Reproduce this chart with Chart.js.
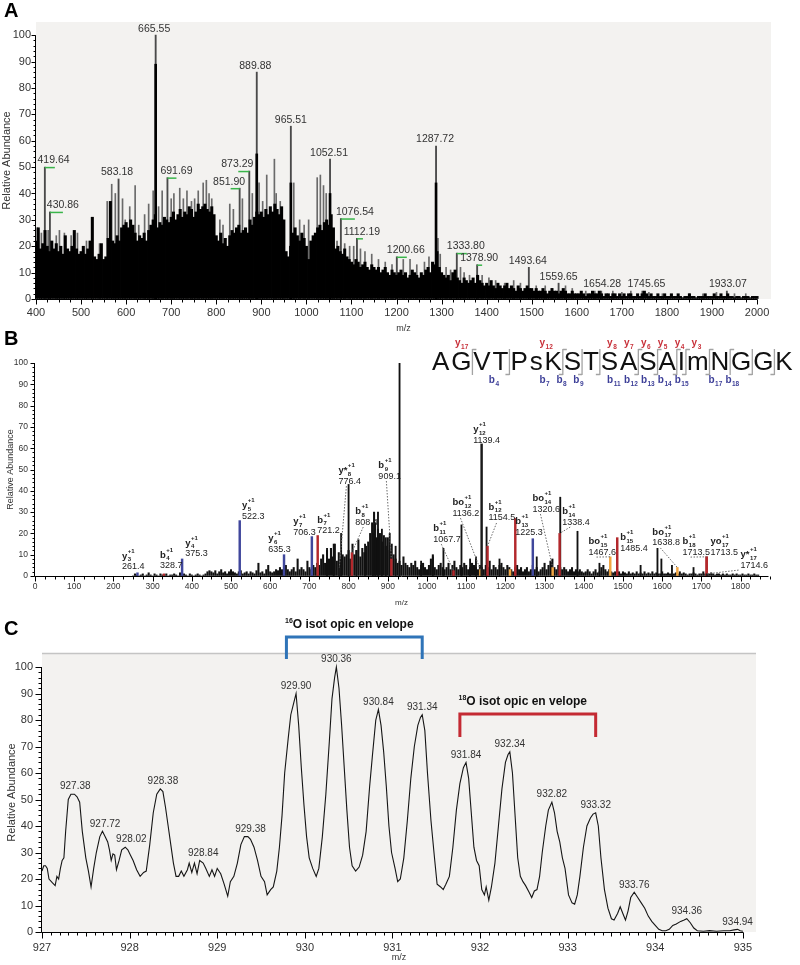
<!DOCTYPE html>
<html>
<head>
<meta charset="utf-8">
<title>MS spectra A-C</title>
<script src="https://cdn.jsdelivr.net/npm/chart.js"></script>
<style>
  html, body { margin:0; padding:0; background:#fff; }
  body { width:800px; height:965px; position:relative; overflow:hidden; font-family:"Liberation Sans", Arial, sans-serif; }
  .wrap { position:absolute; left:0; }
  .wrap canvas { display:block; }
  .tag { position:absolute; left:4px; font-weight:bold; font-size:20px; line-height:20px; color:#000; }
</style>
</head>
<body>
<div class="wrap" style="top:0"><canvas id="chartA" width="800" height="340"></canvas></div>
<div class="wrap" style="top:320px"><canvas id="chartB" width="800" height="290"></canvas></div>
<div class="wrap" style="top:605px"><canvas id="chartC" width="800" height="360"></canvas></div>
<div class="tag" style="top:0">A</div>
<div class="tag" style="top:328px">B</div>
<div class="tag" style="top:618px">C</div>
<script>
const FONT = '"Liberation Sans", Arial, sans-serif';

/* ================= PANEL A DATA ================= */
const aStartMz = 400, aStepMz = 5;
const aEnvelope = [
  22, 27, 19, 21, 26, 20, 18, 22, 19, 21, 18, 20, 17, 24, 19, 18, 20, 26, 19, 17,
  18, 20, 17, 19, 22, 31, 16, 15, 17, 21, 15, 16, 23, 37, 22, 21, 24, 22, 27, 28,
  29, 27, 30, 28, 25, 22, 24, 23, 25, 22, 26, 28, 30, 32, 27, 29, 28, 31, 30, 29,
  31, 33, 30, 32, 34, 31, 33, 32, 35, 34, 31, 33, 36, 34, 35, 36, 34, 33, 35, 32,
  24, 22, 25, 21, 23, 20, 24, 26, 25, 27, 28, 25, 26, 27, 25, 30, 28, 31, 33, 32,
  33, 31, 34, 32, 35, 33, 36, 34, 32, 35, 30, 18, 16, 20, 25, 27, 24, 22, 25, 23,
  20, 15, 22, 24, 25, 27, 28, 26, 29, 30, 28, 32, 27, 19, 20, 18, 17, 19, 16, 15,
  14, 13, 15, 14, 12, 13, 14, 12, 11, 13, 12, 11, 12, 10, 11, 12, 10, 9, 11, 10,
  9, 10, 11, 9, 10, 8, 9, 11, 10, 9, 8, 10, 9, 11, 12, 10, 14, 13, 18, 12,
  10, 9, 8, 9, 7, 10, 11, 8, 7, 6, 8, 7, 6, 7, 8, 6, 9, 7, 6, 5,
  6, 5, 7, 5, 4, 6, 5, 4, 5, 6, 4, 5, 4, 3, 5, 4, 3, 4, 5, 4,
  4, 3, 4, 3, 3, 4, 3, 2, 3, 4, 3, 3, 2, 3, 4, 3, 2, 2, 3, 2,
  2, 2, 3, 2, 1, 2, 2, 3, 2, 2, 3, 2, 1, 2, 2, 1, 2, 2, 1, 2,
  1, 2, 1, 2, 2, 1, 1, 2, 1, 2, 3, 2, 1, 2, 1, 1, 2, 1, 1, 2,
  1, 1, 2, 1, 1, 2, 1, 0.5, 1, 1, 2, 1, 1, 0.5, 1, 1, 1, 2, 1, 1,
  1, 2, 1, 1, 2, 1, 1, 2, 1, 1, 0.5, 1, 1, 0.5, 1, 1, 1, 0.5, 1, 1, 1
];
const aSpikeMz = [403, 412, 427, 445, 452, 463, 478, 492, 512, 524, 541, 558, 568, 576, 592, 598, 608, 620, 628, 641,
  650, 660, 672, 680, 700, 706, 719, 727, 735, 745, 752, 760, 771, 778, 784, 790, 808, 815, 830, 838,
  858, 880, 895, 903, 912, 929, 933, 942, 948, 972, 985, 995, 1005, 1024, 1031, 1038, 1044, 1060, 1068, 1085,
  1096, 1105, 1120, 1130, 1145, 1160, 1175, 1190, 1215, 1230, 1245, 1262, 1272, 1292, 1297, 1310, 1320, 1342, 1350, 1362,
  1390, 1405, 1420, 1440, 1460, 1475, 1510, 1530, 1545, 1575, 1590, 1620, 1640, 1680, 1700, 1720, 1760, 1790, 1850, 1880,
  1910, 1950, 1975];
const aSpikeInt = [27, 25, 26, 24, 26, 25, 24, 25, 22, 31, 21, 37, 43.5, 40, 38, 30, 35, 43, 28, 32,
  36, 41, 35, 41, 38, 40, 42, 38, 41, 37, 38, 41, 44, 45, 40, 38, 30, 28, 36, 34,
  38, 40, 44, 37, 47, 53, 40, 37, 30, 44, 30, 28, 30, 46, 47, 43, 40, 21, 22, 21,
  20, 20, 19, 18, 17, 15, 14, 13, 15, 15, 13, 14, 16, 23, 17, 12, 11, 12, 10, 9,
  9, 8, 7, 6, 7, 6, 5, 5, 4, 5, 4, 3, 3, 3, 2.5, 3, 2.5, 2, 2, 2,
  2.5, 2, 2];
const aPeakMz = [419.64, 430.86, 583.18, 665.55, 691.69, 851.90, 873.29, 889.88, 965.51, 1052.51, 1076.54,
  1112.19, 1200.66, 1287.72, 1333.80, 1378.90, 1493.64, 1559.65, 1654.28, 1745.65, 1933.07];
const aPeakInt = [50, 33, 45.5, 100, 46, 42, 48.5, 86, 65.5, 53, 30.5, 23, 16, 58, 17.4, 13, 12, 6, 3, 3, 3];
const aCoreMz = [665.55, 889.88, 965.51, 1052.51, 1287.72];
const aCoreInt = [89, 55, 44, 40, 44];
const aXTicks = [400, 500, 600, 700, 800, 900, 1000, 1100, 1200, 1300, 1400, 1500, 1600, 1700, 1800, 1900, 2000];
const aYTicks = [0, 10, 20, 30, 40, 50, 60, 70, 80, 90, 100];

/* ================= PANEL B DATA ================= */
const bStartMz = 250, bStepMz = 5;
const bNoise = [
  0, 1, 0.5, 0, 0.5, 1, 0, 0.5, 1.5, 0.5, 0, 1, 0.5, 0, 1, 0.5, 0.5, 1, 0, 0.5,
  0.5, 1, 0.5, 0, 1.5, 0.5, 1, 0.5, 0, 1, 0.5, 0, 0.5, 1, 0.5, 0, 0.5, 1, 2, 2.5,
  2, 1.5, 2.5, 1, 2, 3, 1.5, 2, 1, 2, 3, 2, 1.5, 1, 2, 2.5, 1, 1.5, 2, 1,
  2, 1.5, 1, 2.5, 6, 1.5, 2, 1, 3, 5, 2, 1.5, 2, 3, 2.5, 4, 3, 2, 5, 3,
  2, 3, 4, 2, 8, 3, 4, 3, 2, 7, 4, 3, 5, 4, 6, 5, 8, 10, 6, 12,
  8, 13, 9, 15, 7, 11, 8, 10, 9, 10, 12, 8, 15, 10, 12, 17, 9, 13, 11, 14,
  16, 20, 25, 30, 18, 22, 20, 16, 19, 14, 18, 12, 15, 10, 8, 6, 7, 5, 9, 6,
  5, 4, 6, 5, 7, 4, 3, 5, 6, 4, 3, 5, 8, 10, 4, 3, 5, 6, 4, 3,
  4, 6, 3, 5, 7, 4, 3, 5, 4, 6, 5, 3, 4, 6, 5, 4, 3, 5, 4, 3,
  5, 4, 7, 3, 5, 4, 3, 5, 6, 4, 3, 5, 4, 3, 2, 4, 5, 3, 4, 2,
  3, 4, 2, 3, 5, 3, 4, 2, 3, 4, 6, 3, 5, 7, 8, 4, 3, 5, 4, 3,
  4, 3, 2, 3, 4, 2, 3, 2, 3, 2, 1.5, 2, 3, 2, 1, 2, 3, 1.5, 2, 4,
  5, 3, 2, 3, 2, 1.5, 2, 3, 2, 1, 2, 1.5, 1, 2, 1, 1.5, 1, 2, 1, 1.5,
  1, 2, 1, 1.5, 1, 2, 1, 1.5, 1, 1, 2, 1, 1, 1.5, 1, 0.5, 1, 1.5, 1, 2,
  1, 1.5, 1, 0.5, 1, 1, 1.5, 1, 0.5, 1, 1, 2, 1, 0.5, 1, 1.5, 1, 0.5, 1, 1,
  0.5, 1, 0.5, 1, 0.5, 0.5, 1, 0.5, 1, 0.5, 0.5, 1, 0.5, 0.5, 1, 0.5, 0.5, 1, 0.5, 0.5
];
const bExtraMz = [930, 800, 875, 868, 885, 895, 905, 920, 842, 862, 820, 1042, 1088, 1152, 1340, 1384, 1588, 1598,
  1110, 1125, 1185, 1280, 1318, 1440, 1545, 1625, 1680, 1015, 985, 781, 762, 745];
const bExtraInt = [100, 43, 30, 25, 22, 18, 20, 14, 15, 20, 12, 13, 24, 23, 37, 21, 13, 8,
  8, 9, 8, 9, 7, 6, 5, 5, 4, 9, 7, 20, 15, 13];
const bOtherMz = [1270, 1212];
const bOtherInt = [17.5, 3];
const bIonType = ['y', 'b', 'y', 'y', 'y', 'y', 'b', 'y*', 'b', 'b', 'b', 'bo', 'y', 'b', 'b', 'bo', 'b', 'bo', 'b', 'bo', 'b', 'yo', 'y*'];
const bIonNum = ['3', '4', '4', '5', '6', '7', '7', '8', '8', '9', '11', '12', '12', '12', '13', '14', '14', '15', '15', '17', '18', '17', '17'];
const bIonMz = [261.4, 328.7, 375.3, 522.3, 635.3, 706.3, 721.2, 776.4, 808.4, 909.1, 1067.7, 1136.2, 1139.4,
  1154.5, 1225.3, 1320.6, 1338.4, 1467.6, 1485.4, 1638.8, 1713.5, 1713.5, 1714.6];
const bIonInt = [1.5, 1, 8, 26, 10, 18.5, 19, 4, 11, 8, 2.5, 3, 62, 14, 27, 4, 20, 9, 18, 4, 9, 9, 1];
const bXTicks = [0, 100, 200, 300, 400, 500, 600, 700, 800, 900, 1000, 1100, 1200, 1300, 1400, 1500, 1600, 1700, 1800];
const bYTicks = [0, 10, 20, 30, 40, 50, 60, 70, 80, 90, 100];
const peptide = 'AGVTPsKSTSASAImNGGK';
const seqYIons = [17, 12, 8, 7, 6, 5, 4, 3];
const seqBIons = [4, 7, 8, 9, 11, 12, 13, 14, 15, 17, 18];

/* ================= PANEL C DATA ================= */
const cProfile = [
  [927.00, 23], [927.02, 25], [927.04, 25], [927.06, 24], [927.08, 20], [927.12, 18.5], [927.15, 17.5], [927.17, 21],
  [927.19, 20], [927.21, 24], [927.23, 27], [927.25, 28], [927.27, 38], [927.30, 50], [927.33, 52], [927.37, 52],
  [927.40, 51], [927.43, 49], [927.46, 38], [927.50, 28], [927.53, 23], [927.56, 17], [927.59, 24], [927.62, 30],
  [927.66, 36], [927.69, 38], [927.72, 36], [927.75, 34], [927.77, 31], [927.79, 27], [927.81, 29.5], [927.83, 29],
  [927.85, 23.5], [927.88, 27], [927.91, 31], [927.95, 32], [927.98, 31], [928.01, 29], [928.04, 27], [928.08, 23.5],
  [928.12, 21], [928.16, 22.5], [928.19, 23], [928.23, 33], [928.27, 45], [928.31, 52], [928.35, 54], [928.38, 53],
  [928.41, 47], [928.44, 40], [928.47, 33], [928.50, 26], [928.53, 21], [928.56, 21], [928.59, 23], [928.62, 21],
  [928.66, 23.5], [928.68, 26], [928.71, 22.5], [928.74, 26], [928.77, 22], [928.80, 27], [928.84, 26], [928.87, 24],
  [928.91, 21], [928.94, 23.5], [928.97, 21], [929.00, 24], [929.04, 22], [929.08, 18], [929.12, 13.5], [929.15, 19],
  [929.19, 21], [929.23, 26], [929.27, 33], [929.31, 36], [929.35, 36], [929.38, 35], [929.42, 32], [929.46, 27],
  [929.50, 21], [929.54, 19], [929.57, 14], [929.61, 16], [929.64, 17], [929.68, 23], [929.71, 32], [929.74, 44],
  [929.77, 60], [929.81, 73], [929.84, 82], [929.87, 86], [929.90, 90], [929.93, 78], [929.96, 62], [929.99, 48],
  [930.02, 36], [930.05, 28], [930.09, 24], [930.13, 21], [930.16, 24], [930.20, 36], [930.24, 52], [930.28, 72],
  [930.31, 88], [930.34, 96], [930.36, 100], [930.39, 92], [930.42, 78], [930.45, 62], [930.48, 46], [930.51, 32],
  [930.54, 25], [930.58, 23], [930.62, 24.5], [930.66, 29], [930.70, 38], [930.74, 55], [930.77, 66], [930.81, 80],
  [930.84, 84], [930.87, 78], [930.90, 68], [930.93, 55], [930.96, 40], [930.99, 30], [931.03, 24], [931.06, 19],
  [931.09, 20], [931.13, 28], [931.17, 42], [931.21, 58], [931.25, 70], [931.29, 78], [931.32, 81], [931.34, 82],
  [931.37, 76], [931.40, 60], [931.44, 42], [931.48, 28], [931.51, 18], [931.55, 17], [931.58, 16], [931.61, 18],
  [931.65, 21], [931.69, 32], [931.73, 46], [931.77, 56], [931.81, 62], [931.84, 64], [931.87, 58], [931.90, 45],
  [931.93, 32], [931.96, 27], [931.99, 25], [932.02, 16], [932.05, 14], [932.07, 17], [932.10, 12], [932.13, 17],
  [932.17, 26], [932.21, 40], [932.25, 54], [932.29, 64], [932.32, 67], [932.34, 68], [932.37, 60], [932.40, 44],
  [932.43, 28], [932.46, 21], [932.49, 19], [932.52, 17.5], [932.56, 15], [932.59, 13], [932.62, 15.5], [932.65, 16],
  [932.68, 21], [932.71, 30], [932.75, 40], [932.78, 46], [932.82, 49], [932.85, 45], [932.88, 38], [932.91, 34],
  [932.94, 28], [932.97, 24], [933.01, 14], [933.05, 11], [933.08, 10.5], [933.11, 14], [933.14, 21], [933.18, 32],
  [933.22, 40], [933.26, 43], [933.29, 44.5], [933.32, 45], [933.35, 40], [933.38, 28], [933.42, 16], [933.46, 9],
  [933.50, 5], [933.53, 4.5], [933.57, 7], [933.60, 9.5], [933.63, 7], [933.66, 4.5], [933.69, 8], [933.72, 13],
  [933.76, 15], [933.80, 13], [933.84, 11], [933.88, 9], [933.92, 6], [933.96, 4], [934.00, 2.5], [934.04, 1],
  [934.08, 0.5], [934.12, 0.5], [934.16, 1], [934.20, 2.5], [934.24, 3], [934.29, 4], [934.33, 4.5], [934.36, 5],
  [934.40, 3.5], [934.44, 1.5], [934.48, 0.5], [934.55, 0.3], [934.62, 0.5], [934.70, 0.3], [934.78, 0.5], [934.85, 0.5],
  [934.90, 0.8], [934.94, 1], [934.97, 0.5], [935.00, 0.3]
];
const cPeakMz = [927.38, 927.72, 928.02, 928.38, 928.84, 929.38, 929.90, 930.36, 930.84, 931.34, 931.84, 932.34, 932.82, 933.32, 933.76, 934.36, 934.94];
const cPeakInt = [52, 38, 32, 54, 27, 36, 90, 100, 84, 82, 64, 68, 49, 45, 15, 5, 1];
const cXTicks = [927, 928, 929, 930, 931, 932, 933, 934, 935];
const cYTicks = [0, 10, 20, 30, 40, 50, 60, 70, 80, 90, 100];
const cEnvelopeName = ['16', '18'];
const cEnvelopeFrom = [929.79, 931.77];
const cEnvelopeTo = [931.34, 933.32];

/* ================= LAYOUT / STYLE (not data) ================= */
const BLUE = '#40479c', RED = '#b3282c', ORANGE = '#f2a541', DARK = '#1a1a1a';
const A_LABEL = {
  dx:    [8.7, 13, -1.5, -1.5, 9, -10.5, -12, -1.5, 0, -1, 14, 5, 9, -1, 9, 2, -1, 0, 1, 4, 1],
  green: [10, 13, 0, 0, 9, -9, -11, 0, 0, 0, 14, 6, 10, 0, 10, 5, 0, 0, 0, 0, 0]
};
const B_LABEL = {
  leftMz: [222, 319, 383, 528, 595, 659, 720, 774, 817, 876, 1016, 1065, 1118, 1157, 1225, 1269, 1345, 1412, 1493, 1575, 1652, 1723, 1800],
  level:  [4.7, 5.2, 10.8, 28.6, 13.1, 21.1, 21.6, 45, 25.8, 47.4, 17.8, 30, 64.3, 27.7, 21.1, 31.9, 25.8, 11.7, 13.6, 16, 11.7, 11.7, 5.6],
  leader: [0, 0, 0, 0, 0, 0, 0, 1, 1, 1, 1, 1, 0, 1, 0, 1, 1, 1, 0, 1, 1, 0, 2],
  color:  [BLUE, RED, BLUE, BLUE, BLUE, BLUE, RED, DARK, RED, RED, RED, ORANGE, DARK, RED, RED, ORANGE, RED, ORANGE, RED, ORANGE, RED, RED, DARK]
};
const B_OTHER_COLOR = [BLUE, ORANGE];
const C_ENV_STYLE = [
  { color: '#2f74b8', top: 111.3, bottom: 103, textLevel: 114.7, textShift: -5 },
  { color: '#c42a33', top: 82.3, bottom: 73.6, textLevel: 85.7, textShift: -5 }
];

/* ================= HELPERS ================= */
function xScale(min, max, ticks, size, pad, tl, height, titleSize, titlePad) {
  return {
    type: 'linear', min, max, offset: false,
    afterBuildTicks: s => { s.ticks = ticks.map(v => ({ value: v })); },
    afterFit: s => { s.height = height; },
    grid: { drawOnChartArea: false, color: 'rgba(0,0,0,0)', drawTicks: true, tickLength: tl },
    border: { display: false },
    ticks: { font: { size, family: FONT }, color: '#333', padding: pad, maxRotation: 0, minRotation: 0, autoSkip: false, callback: v => String(v) },
    title: { display: true, text: 'm/z', font: { size: titleSize, family: FONT }, color: '#333', padding: { top: 0, bottom: titlePad } }
  };
}
function yScale(min, max, ticks, size, pad, tl, width, titleSize, titlePad) {
  return {
    type: 'linear', min, max,
    afterBuildTicks: s => { s.ticks = ticks.map(v => ({ value: v })); },
    afterFit: s => { s.width = width; },
    grid: { drawOnChartArea: false, color: 'rgba(0,0,0,0)', drawTicks: true, tickLength: tl },
    border: { display: false },
    ticks: { font: { size, family: FONT }, color: '#333', padding: pad, autoSkip: false, callback: v => String(v) },
    title: { display: true, text: 'Relative Abundance', font: { size: titleSize, family: FONT }, color: '#333', padding: { top: titlePad, bottom: 0 } }
  };
}
function drawAxes(ctx, xs, ys, o) {
  ctx.save();
  ctx.strokeStyle = '#000'; ctx.lineWidth = 1;
  const yb = Math.round(ys.getPixelForValue(o.yFrom)) + 0.5;
  const xl = Math.round(xs.getPixelForValue(o.xFrom)) - 0.5;
  ctx.beginPath();
  ctx.moveTo(xl, yb); ctx.lineTo(xs.getPixelForValue(o.xTo) + 0.5, yb);
  ctx.moveTo(xl, yb); ctx.lineTo(xl, ys.getPixelForValue(o.yTo));
  const nx = Math.round((o.xTo - o.xFrom) / o.xMinor);
  for (let i = 0; i <= nx; i++) {
    const v = o.xFrom + i * o.xMinor;
    const r = v / o.xMajor;
    const major = Math.abs(r - Math.round(r)) < 1e-6;
    let len = major ? o.xMajorLen : o.xMinorLen;
    if (!major && o.xMid) { const r2 = v / o.xMid; if (Math.abs(r2 - Math.round(r2)) < 1e-6) len = o.xMidLen; }
    const px = Math.round(xs.getPixelForValue(v)) + 0.5;
    ctx.moveTo(px, yb); ctx.lineTo(px, yb + len);
  }
  const ny = Math.round((o.yTo - o.yFrom) / o.yMinor);
  for (let i = 0; i <= ny; i++) {
    const v = o.yFrom + i * o.yMinor;
    const r = v / o.yMajor;
    const major = Math.abs(r - Math.round(r)) < 1e-6;
    const py = Math.round(ys.getPixelForValue(v)) + 0.5;
    ctx.moveTo(xl, py); ctx.lineTo(xl - (major ? o.yMajorLen : o.yMinorLen), py);
  }
  ctx.stroke();
  ctx.restore();
}
function bgPlugin(id, color, border) {
  return {
    id,
    beforeDraw(chart) {
      const { ctx, chartArea: a } = chart;
      ctx.save();
      ctx.fillStyle = color;
      ctx.fillRect(a.left, a.top, a.right - a.left, a.bottom - a.top);
      if (border) {
        ctx.strokeStyle = border; ctx.lineWidth = 1.5;
        ctx.beginPath(); ctx.moveTo(a.left, a.top + 0.5); ctx.lineTo(a.right, a.top + 0.5); ctx.stroke();
      }
      ctx.restore();
    }
  };
}
const pts = (xsArr, ysArr) => xsArr.map((x, i) => ({ x, y: ysArr[i] }));
const gridPts = (start, step, vals) => vals.map((v, i) => ({ x: start + i * step, y: v }));
const baseOpts = { responsive: false, animation: false, devicePixelRatio: 1, events: [],
  plugins: { legend: { display: false }, tooltip: { enabled: false } } };

/* ================= CHART A ================= */
const plugA = {
  id: 'annA',
  afterDatasetsDraw(chart) {
    const { ctx } = chart; const xs = chart.scales.x, ys = chart.scales.y;
    drawAxes(ctx, xs, ys, { xFrom: 400, xTo: 2000, xMinor: 25, xMajor: 100, xMinorLen: 3, xMajorLen: 5,
      yFrom: 0, yTo: 100, yMinor: 2, yMajor: 10, yMinorLen: 2, yMajorLen: 4 });
    ctx.save();
    aPeakMz.forEach((mz, i) => {
      const px = xs.getPixelForValue(mz), top = ys.getPixelForValue(aPeakInt[i]);
      const g = A_LABEL.green[i];
      if (g) {
        ctx.strokeStyle = '#39b54a'; ctx.lineWidth = 1.5;
        ctx.beginPath(); ctx.moveTo(px, top + 0.5); ctx.lineTo(px + g, top + 0.5); ctx.stroke();
      }
      ctx.font = `10.5px ${FONT}`; ctx.fillStyle = '#333'; ctx.textAlign = 'center'; ctx.textBaseline = 'middle';
      ctx.fillText(mz.toFixed(2), px + A_LABEL.dx[i], top - 6.5);
    });
    ctx.restore();
  }
};
new Chart(document.getElementById('chartA'), {
  type: 'bar',
  data: { datasets: [
    { data: pts(aCoreMz, aCoreInt), backgroundColor: '#000', barThickness: 2, grouped: false, order: 1 },
    { data: gridPts(aStartMz, aStepMz, aEnvelope), backgroundColor: '#000', barThickness: 2.4, grouped: false, order: 2 },
    { data: pts(aPeakMz, aPeakInt), backgroundColor: '#4a4a4a', barThickness: 1.2, grouped: false, order: 3 },
    { data: pts(aSpikeMz, aSpikeInt), backgroundColor: '#6a6a6a', barThickness: 1, grouped: false, order: 4 }
  ] },
  options: Object.assign({}, baseOpts, {
    layout: { padding: { top: 22, right: 29, bottom: 0, left: 0 } },
    scales: {
      x: xScale(400, 2031, aXTicks, 11, 2, 5, 41, 9, 5.6),
      y: yScale(0, 105, aYTicks, 11, 1, 4, 36, 11, 0.5)
    }
  }),
  plugins: [bgPlugin('bgA', '#f3f2f0', null), plugA]
});

/* ================= CHART B ================= */
function drawIonLabel(ctx, left, cy, type, num, value) {
  ctx.textAlign = 'left'; ctx.textBaseline = 'alphabetic'; ctx.fillStyle = '#222';
  ctx.font = `9px ${FONT}`;
  ctx.fillText(value, left, cy + 3.5);
  ctx.font = `bold 9.5px ${FONT}`;
  ctx.fillText(type, left, cy - 7);
  const w = ctx.measureText(type).width;
  ctx.font = `bold 6px ${FONT}`;
  ctx.fillText(num, left + w + 0.5, cy - 4.5);
  ctx.fillText('+1', left + w + 0.5, cy - 13);
}
const plugB = {
  id: 'annB',
  afterDatasetsDraw(chart) {
    const { ctx } = chart; const xs = chart.scales.x, ys = chart.scales.y;
    drawAxes(ctx, xs, ys, { xFrom: 0, xTo: 1870, xMinor: 25, xMajor: 100, xMinorLen: 3, xMajorLen: 5,
      yFrom: 0, yTo: 100, yMinor: 2, yMajor: 10, yMinorLen: 2, yMajorLen: 4 });
    ctx.save();
    ctx.strokeStyle = '#6a6a6a'; ctx.lineWidth = 1; ctx.setLineDash([1.5, 1.5]);
    bIonMz.forEach((mz, i) => {
      const L = B_LABEL.leader[i]; if (!L) return;
      const lx = xs.getPixelForValue(B_LABEL.leftMz[i]) + (L === 2 ? -2 : 8);
      const ly = ys.getPixelForValue(B_LABEL.level[i]) + 6;
      const px = xs.getPixelForValue(mz), py = ys.getPixelForValue(bIonInt[i]);
      ctx.beginPath(); ctx.moveTo(lx, ly); ctx.lineTo(px, py); ctx.stroke();
    });
    ctx.setLineDash([]);
    bIonMz.forEach((mz, i) => {
      drawIonLabel(ctx, xs.getPixelForValue(B_LABEL.leftMz[i]), ys.getPixelForValue(B_LABEL.level[i]), bIonType[i], bIonNum[i], mz.toFixed(1));
    });
    ctx.restore();
  },
  afterDraw(chart) {
    const { ctx } = chart;
    ctx.save();
    // peptide sequence with fragment markers
    ctx.font = `26px ${FONT}`; ctx.textBaseline = 'alphabetic'; ctx.textAlign = 'left';
    const lefts = [], rights = [];
    let x = 432;
    for (const ch of peptide) { const w = ctx.measureText(ch).width; lefts.push(x); rights.push(x + w); x += w + 1.9; }
    ctx.strokeStyle = '#a3a3a3'; ctx.lineWidth = 1.3;
    for (let r = 1; r < peptide.length; r++) {
      const hasB = seqBIons.includes(r), hasY = seqYIons.includes(peptide.length - r);
      if (!hasB && !hasY) continue;
      const bx = (rights[r - 1] + lefts[r]) / 2;
      ctx.beginPath();
      ctx.moveTo(bx, 29); ctx.lineTo(bx, 55);
      if (hasY) { ctx.moveTo(bx, 29.5); ctx.lineTo(bx + 4, 29.5); }
      if (hasB) { ctx.moveTo(bx, 54.5); ctx.lineTo(bx - 4, 54.5); }
      ctx.stroke();
    }
    ctx.fillStyle = '#111';
    for (let i = 0; i < peptide.length; i++) ctx.fillText(peptide[i], lefts[i], 50);
    function frag(letter, num, left, base, color) {
      ctx.fillStyle = color; ctx.font = `bold 10px ${FONT}`;
      ctx.fillText(letter, left, base);
      const w = ctx.measureText(letter).width;
      ctx.font = `bold 6.5px ${FONT}`;
      ctx.fillText(String(num), left + w + 0.5, base + 3);
    }
    seqYIons.forEach(k => frag('y', k, 421.2 + (peptide.length - k) * 16.9, 26, '#c8313a'));
    seqBIons.forEach(i => frag('b', i, 421.2 + i * 16.9, 63, '#3d3f98'));
    ctx.restore();
  }
};
new Chart(document.getElementById('chartB'), {
  type: 'bar',
  data: { datasets: [
    { data: pts(bIonMz, bIonInt), backgroundColor: B_LABEL.color, barThickness: 1.8, grouped: false, order: 1 },
    { data: pts(bOtherMz, bOtherInt), backgroundColor: B_OTHER_COLOR, barThickness: 1.8, grouped: false, order: 2 },
    { data: pts(bExtraMz, bExtraInt), backgroundColor: '#111', barThickness: 1.2, grouped: false, order: 3 },
    { data: gridPts(bStartMz, bStepMz, bNoise), backgroundColor: '#111', barThickness: 1.4, grouped: false, order: 4 }
  ] },
  options: Object.assign({}, baseOpts, {
    layout: { padding: { top: 43, right: 32, bottom: 0, left: 0 } },
    scales: {
      x: xScale(0, 1870, bXTicks, 8.5, 2, 4, 34, 8, 2.2),
      y: yScale(0, 100, bYTicks, 8.5, 2, 5, 35, 9, 5.5)
    }
  }),
  plugins: [plugB]
});

/* ================= CHART C ================= */
const plugC = {
  id: 'annC',
  afterDatasetsDraw(chart) {
    const { ctx } = chart; const xs = chart.scales.x, ys = chart.scales.y;
    drawAxes(ctx, xs, ys, { xFrom: 927, xTo: 935, xMinor: 0.1, xMajor: 1, xMid: 0.5, xMidLen: 4, xMinorLen: 3, xMajorLen: 6,
      yFrom: 0, yTo: 100, yMinor: 2, yMajor: 10, yMinorLen: 3, yMajorLen: 6 });
    ctx.save();
    ctx.font = `10px ${FONT}`; ctx.fillStyle = '#333'; ctx.textAlign = 'center'; ctx.textBaseline = 'middle';
    cPeakMz.forEach((mz, i) => {
      ctx.fillText(mz.toFixed(2), xs.getPixelForValue(mz), ys.getPixelForValue(cPeakInt[i]) - 7.5);
    });
    cEnvelopeFrom.forEach((from, i) => {
      const st = C_ENV_STYLE[i];
      const p1 = xs.getPixelForValue(from), p2 = xs.getPixelForValue(cEnvelopeTo[i]);
      const t = ys.getPixelForValue(st.top), b = ys.getPixelForValue(st.bottom);
      ctx.strokeStyle = st.color; ctx.lineWidth = 3; ctx.lineJoin = 'miter'; ctx.lineCap = 'butt';
      ctx.beginPath(); ctx.moveTo(p1, b); ctx.lineTo(p1, t); ctx.lineTo(p2, t); ctx.lineTo(p2, b); ctx.stroke();
      const main = 'O isot opic en velope';
      ctx.font = `bold 7px ${FONT}`; const w1 = ctx.measureText(cEnvelopeName[i]).width;
      ctx.font = `bold 12px ${FONT}`; const w2 = ctx.measureText(main).width;
      const start = (p1 + p2) / 2 + st.textShift - (w1 + w2) / 2;
      const ty = ys.getPixelForValue(st.textLevel);
      ctx.fillStyle = '#111'; ctx.textAlign = 'left'; ctx.textBaseline = 'alphabetic';
      ctx.font = `bold 7px ${FONT}`; ctx.fillText(cEnvelopeName[i], start, ty - 5);
      ctx.font = `bold 12px ${FONT}`; ctx.fillText(main, start + w1, ty);
      ctx.textAlign = 'center'; ctx.textBaseline = 'middle'; ctx.font = `10px ${FONT}`; ctx.fillStyle = '#333';
    });
    ctx.restore();
  }
};
new Chart(document.getElementById('chartC'), {
  type: 'line',
  data: { datasets: [
    { data: cProfile.map(p => ({ x: p[0], y: p[1] })), borderColor: '#151515', borderWidth: 1.1, pointRadius: 0, tension: 0, fill: false }
  ] },
  options: Object.assign({}, baseOpts, {
    layout: { padding: { top: 48, right: 44, bottom: 0, left: 0 } },
    scales: {
      x: xScale(927, 935.15, cXTicks, 11, 3, 6, 33, 9, 1.6),
      y: yScale(0, 105.3, cYTicks, 11, 3, 6, 42, 11, 5.4)
    }
  }),
  plugins: [bgPlugin('bgC', '#f3f2f0', '#c4c4c4'), plugC]
});
</script>
</body>
</html>
